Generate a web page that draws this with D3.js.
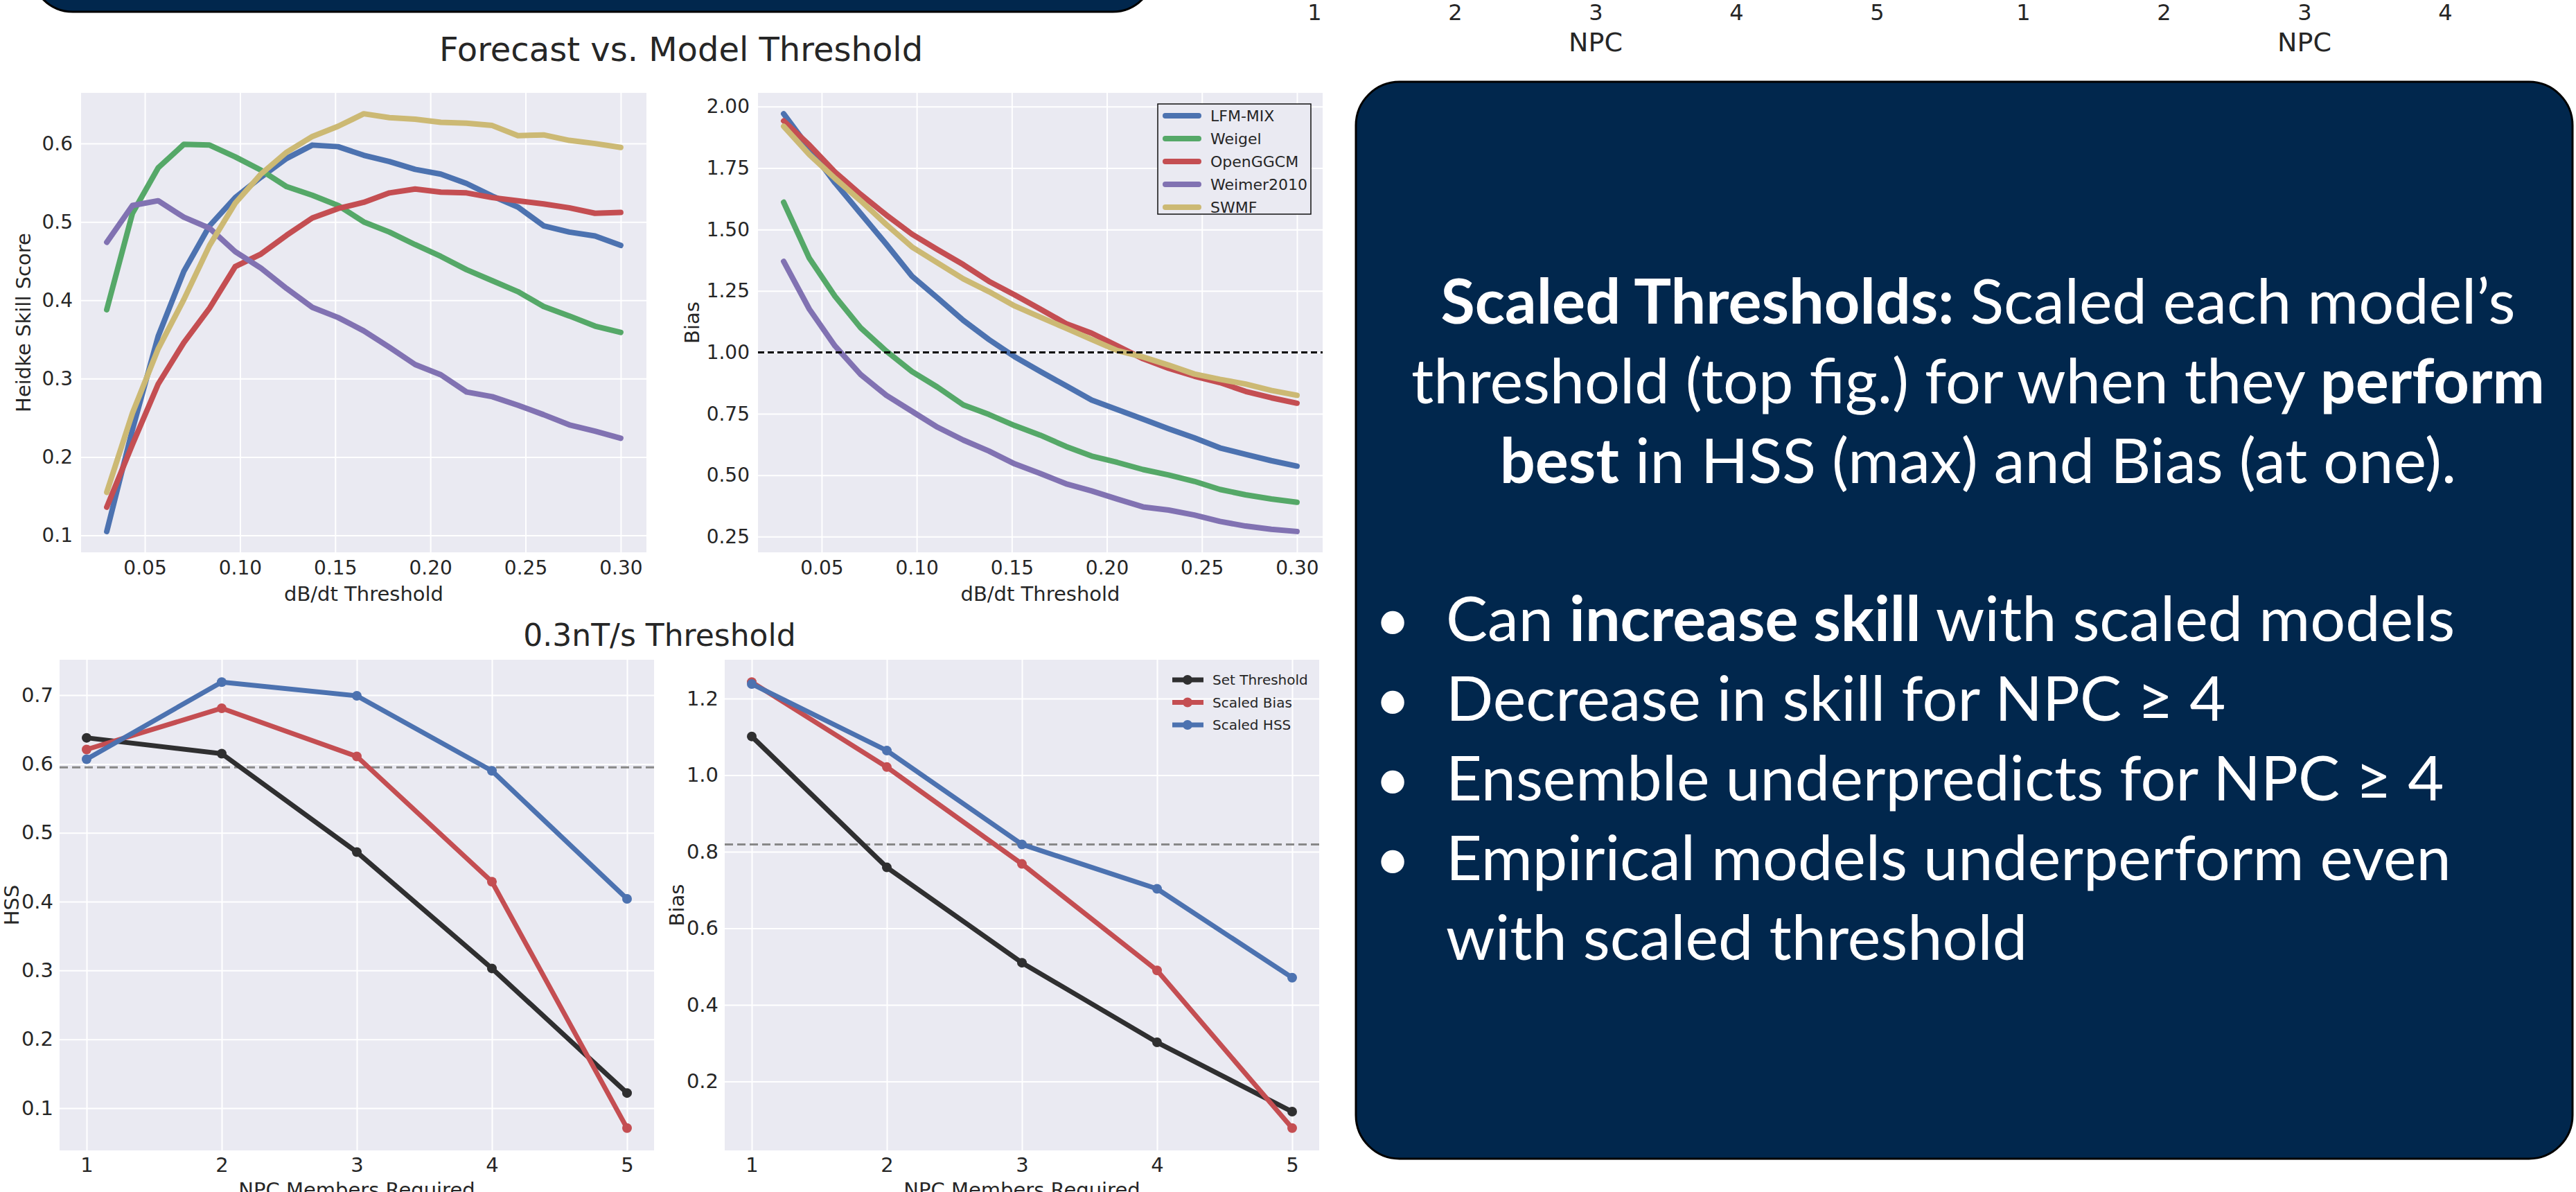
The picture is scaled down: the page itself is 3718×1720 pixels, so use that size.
<!DOCTYPE html>
<html>
<head>
<meta charset="utf-8">
<script src="https://cdn.jsdelivr.net/npm/d3@7"></script>
<style>
  body { margin: 0; background: #fff; overflow: hidden; }
  text { font-family: "DejaVu Sans", sans-serif; fill: #262626; }
</style>
</head>
<body>
<script>
const W = 3718, H = 1720;

// thresholds (nT/s) and per-model scores
const thresholds = [0.030, 0.0435, 0.057, 0.0705, 0.084, 0.0975, 0.111, 0.1245, 0.138, 0.1515, 0.165,
    0.1785, 0.192, 0.2055, 0.219, 0.2325, 0.246, 0.2595, 0.273, 0.2865, 0.300];
const modelNames = ["LFM-MIX", "Weigel", "OpenGGCM", "Weimer2010", "SWMF"];

const hss_lfm = [0.105, 0.235, 0.354, 0.437, 0.495, 0.531, 0.557, 0.581, 0.598, 0.596, 0.585, 0.577, 0.567, 0.561, 0.549, 0.533, 0.519, 0.495, 0.487, 0.482, 0.470];
const hss_weigel = [0.388, 0.511, 0.569, 0.599, 0.598, 0.583, 0.566, 0.545, 0.534, 0.521, 0.500, 0.487, 0.471, 0.456, 0.439, 0.425, 0.411, 0.392, 0.380, 0.367, 0.359];
const hss_openggcm = [0.136, 0.216, 0.293, 0.346, 0.390, 0.443, 0.459, 0.483, 0.505, 0.517, 0.525, 0.537, 0.542, 0.538, 0.537, 0.531, 0.527, 0.523, 0.518, 0.511, 0.512];
const hss_weimer = [0.474, 0.521, 0.527, 0.506, 0.492, 0.462, 0.441, 0.415, 0.391, 0.378, 0.361, 0.340, 0.318, 0.305, 0.283, 0.277, 0.266, 0.254, 0.241, 0.233, 0.224];
const hss_swmf = [0.155, 0.256, 0.338, 0.401, 0.470, 0.524, 0.561, 0.589, 0.609, 0.622, 0.638, 0.633, 0.631, 0.627, 0.626, 0.623, 0.610, 0.611, 0.604, 0.600, 0.595];

const bias_lfm = [1.971, 1.830, 1.690, 1.565, 1.440, 1.310, 1.221, 1.130, 1.052, 0.982, 0.922, 0.864, 0.806, 0.767, 0.728, 0.689, 0.652, 0.611, 0.585, 0.559, 0.537];
const bias_weigel = [1.611, 1.383, 1.228, 1.100, 1.005, 0.922, 0.858, 0.786, 0.747, 0.702, 0.663, 0.617, 0.578, 0.552, 0.523, 0.501, 0.475, 0.442, 0.420, 0.403, 0.390];
const bias_openggcm = [1.942, 1.844, 1.734, 1.643, 1.559, 1.481, 1.418, 1.357, 1.289, 1.234, 1.176, 1.117, 1.078, 1.026, 0.974, 0.935, 0.903, 0.877, 0.841, 0.815, 0.793];
const bias_weimer = [1.370, 1.176, 1.026, 0.910, 0.825, 0.760, 0.695, 0.643, 0.598, 0.546, 0.507, 0.465, 0.436, 0.403, 0.371, 0.358, 0.338, 0.312, 0.293, 0.280, 0.271];
const bias_swmf = [1.920, 1.805, 1.708, 1.617, 1.520, 1.429, 1.364, 1.299, 1.247, 1.189, 1.143, 1.098, 1.052, 1.007, 0.981, 0.948, 0.912, 0.890, 0.871, 0.845, 0.825];

// ensemble at the 0.3 nT/s threshold
const npcMembers = [1, 2, 3, 4, 5];
const ensembleNames = ["Set Threshold", "Scaled Bias", "Scaled HSS"];
const hss_set = [0.638, 0.615, 0.472, 0.303, 0.122];
const hss_scaledBias = [0.621, 0.681, 0.611, 0.429, 0.071];
const hss_scaledHss = [0.607, 0.719, 0.699, 0.590, 0.404];
const hss_reference = 0.595;
const bias_set = [1.101, 0.759, 0.510, 0.302, 0.121];
const bias_scaledBias = [1.243, 1.021, 0.768, 0.490, 0.078];
const bias_scaledHss = [1.238, 1.064, 0.819, 0.703, 0.471];
const bias_reference = 0.819;
const bias_perfect = 1.0;

// tick labels
const thresholdTicks = [0.05, 0.10, 0.15, 0.20, 0.25, 0.30];
const hssTicks = [0.1, 0.2, 0.3, 0.4, 0.5, 0.6];
const biasTicks = [0.25, 0.50, 0.75, 1.00, 1.25, 1.50, 1.75, 2.00];
const npcHssTicks = [0.1, 0.2, 0.3, 0.4, 0.5, 0.6, 0.7];
const npcBiasTicks = [0.2, 0.4, 0.6, 0.8, 1.0, 1.2];
const npcStripTicks = [1, 2, 3, 4, 5];

const modelColors = ["#4C72B0", "#55A868", "#C44E52", "#8172B2", "#CCB974"];
const ensembleColors = ["#2f2f30", "#C44E52", "#4C72B0"];

const svg = d3.select("body").append("svg").attr("width", W).attr("height", H);

function padded(values) {
    const ext = d3.extent(values), r = ext[1] - ext[0];
    return [ext[0] - 0.05 * r, ext[1] + 0.05 * r];
}

function drawPanel(p) {
    const g = svg.append("g");
    const x = d3.scaleLinear().domain(p.xDomain).range([p.left, p.right]);
    const y = d3.scaleLinear().domain(p.yDomain).range([p.bottom, p.top]);

    g.append("rect")
        .attr("x", p.left).attr("y", p.top)
        .attr("width", p.right - p.left).attr("height", p.bottom - p.top)
        .attr("fill", "#EAEAF2");

    // grid
    g.append("g").attr("transform", `translate(0,${p.bottom})`)
        .call(d3.axisBottom(x).tickValues(p.xTicks).tickSize(-(p.bottom - p.top)).tickFormat(""))
        .call(a => a.select(".domain").remove())
        .call(a => a.selectAll("line").attr("stroke", "#fff").attr("stroke-width", 2));
    g.append("g").attr("transform", `translate(${p.left},0)`)
        .call(d3.axisLeft(y).tickValues(p.yTicks).tickSize(-(p.right - p.left)).tickFormat(""))
        .call(a => a.select(".domain").remove())
        .call(a => a.selectAll("line").attr("stroke", "#fff").attr("stroke-width", 2));

    // tick labels
    g.append("g").attr("transform", `translate(0,${p.bottom})`)
        .call(d3.axisBottom(x).tickValues(p.xTicks).tickSize(0).tickPadding(p.xPad).tickFormat(p.xFmt))
        .call(a => a.select(".domain").remove())
        .call(a => a.selectAll("text").attr("font-family", null).style("font-size", p.tickSize + "px").attr("fill", "#262626"));
    g.append("g").attr("transform", `translate(${p.left},0)`)
        .call(d3.axisLeft(y).tickValues(p.yTicks).tickSize(0).tickPadding(p.yPad).tickFormat(p.yFmt))
        .call(a => a.select(".domain").remove())
        .call(a => a.selectAll("text").attr("font-family", null).style("font-size", p.tickSize + "px").attr("fill", "#262626"));

    // axis labels
    g.append("text")
        .attr("x", (p.left + p.right) / 2).attr("y", p.xLabelY)
        .attr("text-anchor", "middle").style("font-size", p.labelSize + "px")
        .text(p.xLabel);
    g.append("text")
        .attr("transform", `translate(${p.yLabelX},${(p.top + p.bottom) / 2}) rotate(-90)`)
        .attr("text-anchor", "middle").style("font-size", p.labelSize + "px")
        .text(p.yLabel);

    return { g: g, x: x, y: y };
}

function refLine(panel, p, value, color, dash) {
    panel.g.append("line")
        .attr("x1", p.left).attr("x2", p.right)
        .attr("y1", panel.y(value)).attr("y2", panel.y(value))
        .attr("stroke", color).attr("stroke-width", 3)
        .attr("stroke-dasharray", dash);
}

// ---------- top row: score vs threshold ----------
const hssSeries = [hss_lfm, hss_weigel, hss_openggcm, hss_weimer, hss_swmf];
const biasSeries = [bias_lfm, bias_weigel, bias_openggcm, bias_weimer, bias_swmf];

const topLeft = {
    left: 117, right: 933, top: 134, bottom: 797,
    xDomain: padded(thresholds), yDomain: padded(hssSeries.flat()),
    xTicks: thresholdTicks, yTicks: hssTicks, xFmt: d3.format(".2f"), yFmt: d3.format(".1f"),
    xPad: 12, yPad: 12, tickSize: 28, labelSize: 29,
    xLabel: "dB/dt Threshold", xLabelY: 867, yLabel: "Heidke Skill Score", yLabelX: 44
};
const topRight = {
    left: 1094, right: 1909, top: 134, bottom: 797,
    xDomain: padded(thresholds), yDomain: padded(biasSeries.flat()),
    xTicks: thresholdTicks, yTicks: biasTicks, xFmt: d3.format(".2f"), yFmt: d3.format(".2f"),
    xPad: 12, yPad: 12, tickSize: 28, labelSize: 29,
    xLabel: "dB/dt Threshold", xLabelY: 867, yLabel: "Bias", yLabelX: 1009
};

const modelLine = (ys, panel) => d3.line()
    .x((d, i) => panel.x(thresholds[i]))
    .y(d => panel.y(d))(ys);

const pTL = drawPanel(topLeft);
hssSeries.forEach((s, i) => {
    pTL.g.append("path").attr("d", modelLine(s, pTL))
        .attr("fill", "none").attr("stroke", modelColors[i]).attr("stroke-width", 8)
        .attr("stroke-linejoin", "round").attr("stroke-linecap", "round");
});

const pTR = drawPanel(topRight);
biasSeries.forEach((s, i) => {
    pTR.g.append("path").attr("d", modelLine(s, pTR))
        .attr("fill", "none").attr("stroke", modelColors[i]).attr("stroke-width", 8)
        .attr("stroke-linejoin", "round").attr("stroke-linecap", "round");
});
refLine(pTR, topRight, bias_perfect, "#000", "9 5");

// model legend
const legTR = pTR.g.append("g");
legTR.append("rect").attr("x", 1671).attr("y", 150).attr("width", 221).attr("height", 159)
    .attr("fill", "#EAEAF2").attr("stroke", "#111").attr("stroke-width", 1.5);
modelNames.forEach((name, i) => {
    const cy = 167 + i * 33;
    legTR.append("line").attr("x1", 1682).attr("x2", 1730).attr("y1", cy).attr("y2", cy)
        .attr("stroke", modelColors[i]).attr("stroke-width", 8).attr("stroke-linecap", "round");
    legTR.append("text").attr("x", 1747).attr("y", cy + 8).style("font-size", "22px").text(name);
});

// ---------- bottom row: ensemble vs NPC members ----------
const hssEnsemble = [hss_set, hss_scaledBias, hss_scaledHss];
const biasEnsemble = [bias_set, bias_scaledBias, bias_scaledHss];

const botLeft = {
    left: 86, right: 944, top: 952, bottom: 1660,
    xDomain: padded(npcMembers), yDomain: padded(hssEnsemble.flat()),
    xTicks: npcMembers, yTicks: npcHssTicks, xFmt: d3.format("d"), yFmt: d3.format(".1f"),
    xPad: 10, yPad: 9, tickSize: 29, labelSize: 29,
    xLabel: "NPC Members Required", xLabelY: 1727, yLabel: "HSS", yLabelX: 27
};
const botRight = {
    left: 1046, right: 1904, top: 952, bottom: 1660,
    xDomain: padded(npcMembers), yDomain: padded(biasEnsemble.flat()),
    xTicks: npcMembers, yTicks: npcBiasTicks, xFmt: d3.format("d"), yFmt: d3.format(".1f"),
    xPad: 10, yPad: 9, tickSize: 29, labelSize: 29,
    xLabel: "NPC Members Required", xLabelY: 1727, yLabel: "Bias", yLabelX: 987
};

function drawEnsemble(panel, series) {
    series.forEach((s, i) => {
        panel.g.append("path")
            .attr("d", d3.line().x((d, j) => panel.x(npcMembers[j])).y(d => panel.y(d))(s))
            .attr("fill", "none").attr("stroke", ensembleColors[i]).attr("stroke-width", 7)
            .attr("stroke-linejoin", "round");
        panel.g.selectAll(null).data(s).enter().append("circle")
            .attr("cx", (d, j) => panel.x(npcMembers[j]))
            .attr("cy", d => panel.y(d))
            .attr("r", 7)
            .attr("fill", ensembleColors[i]);
    });
}

const pBL = drawPanel(botLeft);
refLine(pBL, botLeft, hss_reference, "#888", "12 6");
drawEnsemble(pBL, hssEnsemble);

const pBR = drawPanel(botRight);
refLine(pBR, botRight, bias_reference, "#888", "12 6");
drawEnsemble(pBR, biasEnsemble);

const legBR = pBR.g.append("g");
ensembleNames.forEach((name, i) => {
    const cy = 981 + i * 32.5;
    legBR.append("line").attr("x1", 1692).attr("x2", 1737).attr("y1", cy).attr("y2", cy)
        .attr("stroke", ensembleColors[i]).attr("stroke-width", 7);
    legBR.append("circle").attr("cx", 1714).attr("cy", cy).attr("r", 7).attr("fill", ensembleColors[i]);
    legBR.append("text").attr("x", 1750).attr("y", cy + 7).style("font-size", "20px").text(name);
});

// ---------- titles ----------
svg.append("text").attr("x", 983).attr("y", 88).attr("text-anchor", "middle")
    .style("font-size", "48px").text("Forecast vs. Model Threshold");
svg.append("text").attr("x", 952).attr("y", 932).attr("text-anchor", "middle")
    .style("font-size", "44px").text("0.3nT/s Threshold");

// ---------- cropped axes at the very top (panels above) ----------
[1897, 2920].forEach(x0 => {
    const sx = d3.scaleLinear().domain([1, 5]).range([x0, x0 + 812]);
    svg.append("g").attr("transform", "translate(0,6)")
        .call(d3.axisBottom(sx).tickValues(npcStripTicks).tickSize(0).tickPadding(0).tickFormat(d3.format("d")))
        .call(a => a.select(".domain").remove())
        .call(a => a.selectAll("text").attr("font-family", null).style("font-size", "32px").attr("fill", "#262626"));
    svg.append("text").attr("x", sx(3)).attr("y", 74).attr("text-anchor", "middle")
        .style("font-size", "38px").text("NPC");
});

// ---------- navy boxes ----------
svg.append("rect").attr("x", 45).attr("y", -120).attr("width", 1621).attr("height", 137)
    .attr("rx", 60).attr("fill", "#01274d").attr("stroke", "#000").attr("stroke-width", 3);

const box = { left: 1957, right: 3713, top: 118, bottom: 1672 };
svg.append("rect").attr("x", box.left).attr("y", box.top)
    .attr("width", box.right - box.left).attr("height", box.bottom - box.top)
    .attr("rx", 63).attr("fill", "#01274d").attr("stroke", "#000").attr("stroke-width", 3);

const introLines = [
    [["Scaled Thresholds:", true], [" Scaled each model\u2019s", false]],
    [["threshold (top fig.) for when they ", false], ["perform", true]],
    [["best", true], [" in HSS (max) and Bias (at one).", false]]
];
const bulletLines = [
    [["Can ", false], ["increase skill", true], [" with scaled models", false]],
    [["Decrease in skill for NPC \u2265 4", false]],
    [["Ensemble underpredicts for NPC \u2265 4", false]],
    [["Empirical models underperform even", false]],
    [["with scaled threshold", false]]
];

const boxText = svg.append("g").style("font-family", "Lato, 'Open Sans', sans-serif");

function addLine(parts, x, y, anchor) {
    const t = boxText.append("text").attr("x", x).attr("y", y)
        .attr("text-anchor", anchor)
        .style("font-family", "Lato, 'Open Sans', sans-serif")
        .attr("fill", "#fff").style("fill", "#fff");
    parts.forEach(pt => t.append("tspan").attr("font-weight", pt[1] ? 700 : 400).text(pt[0]));
    return t;
}

// size the font so the widest intro line fills the same width as in the poster
const probe = addLine(introLines[1], 0, -500, "start").style("font-size", "100px");
const fontPx = 100 * 1636 / probe.node().getComputedTextLength();
probe.remove();

const centerX = 2855;
introLines.forEach((ln, i) => {
    addLine(ln, centerX, 467 + i * 115, "middle").style("font-size", fontPx + "px");
});
bulletLines.forEach((ln, i) => {
    const y = 925 + i * 115;
    addLine(ln, 2087, y, "start").style("font-size", fontPx + "px");
    if (i < 4) {
        boxText.append("text").attr("x", 2010).attr("y", y).attr("text-anchor", "middle")
            .style("font-family", "Lato, sans-serif").style("font-size", fontPx + "px")
            .style("fill", "#fff").text("\u2022");
    }
});
</script>
</body>
</html>
